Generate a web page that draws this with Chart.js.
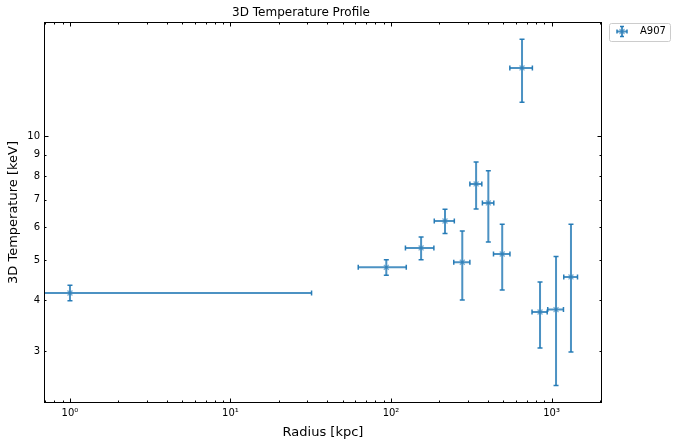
<!DOCTYPE html>
<html>
<head>
<meta charset="utf-8">
<script src="https://cdn.jsdelivr.net/npm/chart.js@4.4.1/dist/chart.umd.min.js"></script>
<style>
  html, body { margin: 0; padding: 0; background: #fff; }
  #wrap { width: 677px; height: 448px; }
</style>
</head>
<body>
<div id="wrap"><canvas id="profile" width="677" height="448"></canvas></div>
<script>
// A907 3D temperature profile
const radius = [1.0, 93.5, 154, 217, 278, 339, 404, 493, 655, 848, 1067, 1322];
const radiusErr = [31, 31, 31, 31, 32, 29, 33, 58, 105, 92, 120, 130];
const temperature = [4.16, 4.80, 5.35, 6.22, 4.94, 7.65, 6.88, 5.17, 14.63, 3.74, 3.79, 4.55];
const temperatureErr = [0.18, 0.21, 0.34, 0.42, 0.94, 1.0, 1.35, 0.94, 2.55, 0.68, 1.31, 1.56];

const xTickValues = [1, 10, 100, 1000];
const xTickLabels = ["10⁰", "10¹", "10²", "10³"];
const yTickValues = [3, 4, 5, 6, 7, 8, 9, 10];
const yTickLabels = ["3", "4", "5", "6", "7", "8", "9", "10"];
const yMajorTicks = [10];

const xLimits = [0.689, 2063];
const yLimits = [2.249, 18.91];

const seriesName = "A907";
const FONT = "DejaVu Sans";
const LINE = "rgba(31, 119, 180, 0.8)";
const CAP = "rgba(31, 119, 180, 0.95)";

function xMinorTicks() {
    const out = [];
    for (let d = 0.1; d < xLimits[1]; d *= 10) {
        for (let k = 2; k <= 9; k++) {
            const v = Math.round(k * d * 1000) / 1000;
            if (v > xLimits[0] && v < xLimits[1]) out.push(v);
        }
    }
    return out;
}

// error bars drawn under the markers, clipped to the plot box
const errorBars = {
    id: "errorBars",
    beforeDatasetsDraw(chart) {
        const { ctx, chartArea: a, scales: { x, y } } = chart;
        ctx.save();
        ctx.beginPath();
        ctx.rect(a.left, a.top, a.width, a.height);
        ctx.clip();
        const cap = 2.5;
        radius.forEach((r, i) => {
            const px = x.getPixelForValue(r);
            const py = y.getPixelForValue(temperature[i]);
            const lo = r - radiusErr[i];
            const x0 = lo > 0 ? x.getPixelForValue(lo) : a.left - 20;
            const x1 = x.getPixelForValue(r + radiusErr[i]);
            const y0 = y.getPixelForValue(temperature[i] + temperatureErr[i]);
            const y1 = y.getPixelForValue(temperature[i] - temperatureErr[i]);
            ctx.strokeStyle = LINE;
            ctx.lineWidth = 2;
            ctx.beginPath();
            ctx.moveTo(x0, py); ctx.lineTo(x1, py);
            ctx.moveTo(px, y0); ctx.lineTo(px, y1);
            ctx.stroke();
            ctx.strokeStyle = CAP;
            ctx.lineWidth = 1.5;
            ctx.beginPath();
            if (lo > 0) { ctx.moveTo(x0, py - cap); ctx.lineTo(x0, py + cap); }
            ctx.moveTo(x1, py - cap); ctx.lineTo(x1, py + cap);
            ctx.moveTo(px - cap, y0); ctx.lineTo(px + cap, y0);
            ctx.moveTo(px - cap, y1); ctx.lineTo(px + cap, y1);
            ctx.stroke();
        });
        ctx.restore();
    },
};

// matplotlib style frame: box with inward ticks on all four sides, plus the outside legend
const frame = {
    id: "frame",
    afterDraw(chart) {
        const { ctx, chartArea: a, scales: { x, y } } = chart;
        const L = Math.round(a.left) + 0.5, R = Math.round(a.right) - 0.5;
        const T = Math.round(a.top) + 0.5, B = Math.round(a.bottom) - 0.5;
        ctx.save();
        ctx.strokeStyle = "#000";
        ctx.lineWidth = 1;
        ctx.strokeRect(L, T, R - L, B - T);
        ctx.beginPath();
        const xt = (v, len) => {
            const p = Math.round(x.getPixelForValue(v)) + 0.5;
            ctx.moveTo(p, B); ctx.lineTo(p, B - len);
            ctx.moveTo(p, T); ctx.lineTo(p, T + len);
        };
        const yt = (v, len) => {
            const p = Math.round(y.getPixelForValue(v)) + 0.5;
            ctx.moveTo(L, p); ctx.lineTo(L + len, p);
            ctx.moveTo(R, p); ctx.lineTo(R - len, p);
        };
        xTickValues.forEach((v) => xt(v, 4));
        xMinorTicks().forEach((v) => xt(v, 2));
        yTickValues.forEach((v) => yt(v, yMajorTicks.includes(v) ? 4 : 2));
        ctx.stroke();

        // legend box
        const bx = 609, by = 23, bw = 61, bh = 18;
        ctx.fillStyle = "rgba(255,255,255,0.8)";
        ctx.strokeStyle = "#cccccc";
        ctx.beginPath();
        ctx.roundRect(bx + 0.5, by + 0.5, bw, bh, 2);
        ctx.fill();
        ctx.stroke();
        const cx = 622, cy = 31.5;
        ctx.strokeStyle = LINE;
        ctx.lineWidth = 2;
        ctx.beginPath();
        ctx.moveTo(cx - 5, cy); ctx.lineTo(cx + 5, cy);
        ctx.moveTo(cx, cy - 5); ctx.lineTo(cx, cy + 5);
        ctx.stroke();
        ctx.strokeStyle = CAP;
        ctx.lineWidth = 1.5;
        ctx.beginPath();
        ctx.moveTo(cx - 5, cy - 2); ctx.lineTo(cx - 5, cy + 2);
        ctx.moveTo(cx + 5, cy - 2); ctx.lineTo(cx + 5, cy + 2);
        ctx.moveTo(cx - 2, cy - 5); ctx.lineTo(cx + 2, cy - 5);
        ctx.moveTo(cx - 2, cy + 5); ctx.lineTo(cx + 2, cy + 5);
        ctx.stroke();
        ctx.strokeStyle = "rgba(31,119,180,0.6)";
        ctx.lineWidth = 1.2;
        ctx.beginPath();
        ctx.moveTo(cx - 2.5, cy - 2.5); ctx.lineTo(cx + 2.5, cy + 2.5);
        ctx.moveTo(cx - 2.5, cy + 2.5); ctx.lineTo(cx + 2.5, cy - 2.5);
        ctx.stroke();
        ctx.fillStyle = "#000";
        ctx.font = `10px "${FONT}"`;
        ctx.textBaseline = "middle";
        ctx.fillText(seriesName, 640, cy);
        ctx.restore();
    },
};

new Chart(document.getElementById("profile"), {
    type: "scatter",
    data: {
        datasets: [{
            label: seriesName,
            data: radius.map((r, i) => ({ x: r, y: temperature[i] })),
            pointStyle: "crossRot",
            pointRadius: 3.5,
            pointHoverRadius: 3.5,
            borderColor: "rgba(31, 119, 180, 0.6)",
            backgroundColor: "rgba(31, 119, 180, 0.6)",
            borderWidth: 1.3,
            clip: false,
        }],
    },
    options: {
        responsive: false,
        animation: false,
        devicePixelRatio: 1,
        layout: { padding: { left: 0, right: 75, top: 0, bottom: 0 } },
        plugins: {
            legend: { display: false },
            tooltip: { enabled: false },
            title: {
                display: true,
                text: "3D Temperature Profile",
                color: "#000",
                font: { family: FONT, size: 12, weight: "normal", lineHeight: 1.2 },
                padding: { top: 6, bottom: 1.6 },
            },
        },
        scales: {
            x: {
                type: "logarithmic",
                position: "bottom",
                min: xLimits[0],
                max: xLimits[1],
                grid: { display: false, drawTicks: false },
                border: { display: false },
                afterBuildTicks: (s) => { s.ticks = xTickValues.map((v) => ({ value: v })); },
                afterFit: (s) => { s.height = 45; },
                ticks: {
                    autoSkip: false,
                    maxRotation: 0,
                    padding: 4,
                    color: "#000",
                    font: { family: FONT, size: 10 },
                    callback: (v, i) => xTickLabels[i],
                },
                title: {
                    display: true,
                    text: "Radius [kpc]",
                    color: "#000",
                    font: { family: FONT, size: 13 },
                    padding: { top: 0, bottom: 8 },
                },
            },
            y: {
                type: "logarithmic",
                position: "left",
                min: yLimits[0],
                max: yLimits[1],
                grid: { display: false, drawTicks: false },
                border: { display: false },
                afterBuildTicks: (s) => { s.ticks = yTickValues.map((v) => ({ value: v })); },
                afterFit: (s) => { s.width = 44; },
                ticks: {
                    autoSkip: false,
                    padding: 4,
                    color: "#000",
                    font: { family: FONT, size: 10 },
                    callback: (v, i) => yTickLabels[i],
                },
                title: {
                    display: true,
                    text: "3D Temperature [keV]",
                    color: "#000",
                    font: { family: FONT, size: 13 },
                    padding: { top: 6, bottom: 0 },
                },
            },
        },
    },
    plugins: [errorBars, frame],
});
</script>
</body>
</html>
